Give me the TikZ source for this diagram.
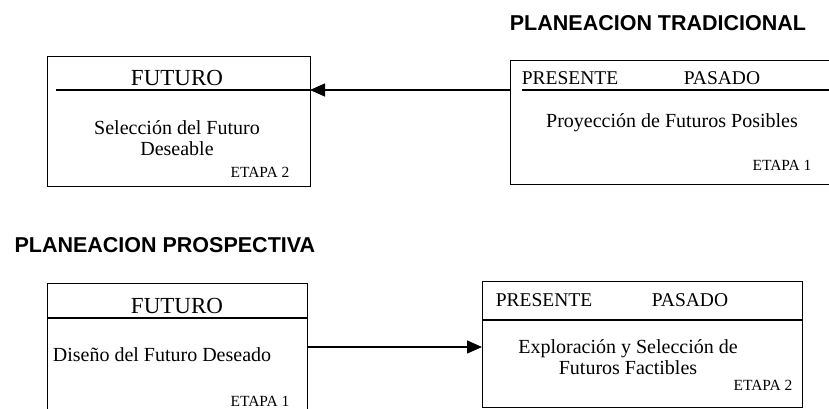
\documentclass[tikz,border=0pt]{standalone}
\usepackage{fontspec}
\setmainfont{Liberation Serif}
\setsansfont{Liberation Sans}
\usetikzlibrary{arrows.meta}
\tikzset{
  >={Triangle[length=15pt,width=13pt]},
  every picture/.style={line cap=butt, line join=miter},
  frame/.style={draw=black, line width=1.3pt, anchor=north west, inner sep=0pt},
  rule/.style={black, line width=1.3pt},
  link/.style={black, line width=1.3pt, ->},
  ttl/.style={font=\sffamily\bfseries\fontsize{21.5}{24}\selectfont},
  head/.style={font=\fontsize{23}{26}\selectfont},
  headsm/.style={font=\fontsize{19.5}{22}\selectfont},
  body/.style={font=\fontsize{20}{21}\selectfont, align=center},
  stage/.style={font=\fontsize{15.5}{18}\selectfont},
}
\begin{document}
\begin{tikzpicture}[x=1pt, y=-1pt]
\useasboundingbox (0,0) rectangle (829,409);
\clip (0,0) rectangle (829,409);
% planeacion tradicional
\node[ttl] (tradttl) at (658,23) {PLANEACION TRADICIONAL};
\node[frame, minimum width=263pt, minimum height=130pt] (tfut) at (47,56) {};
\coordinate (tfuth) at (310,90);
\draw[rule] (56,90) -- (tfuth);
\node[head] (tfutlbl) at (177,78) {FUTURO};
\node[body] (tfuttxt) at (177,138) {Selección del Futuro\\Deseable};
\node[stage] (tfutst) at (260,172) {ETAPA 2};
\node[frame, minimum width=340pt, minimum height=124pt] (tpre) at (510,60) {};
\coordinate (tpreh) at (510,90);
\draw[rule] (522,90) -- (850,90);
\node[headsm] (tprelbl) at (570,78) {PRESENTE};
\node[headsm] (tpaslbl) at (722,78) {PASADO};
\node[body] (tpretxt) at (672,123) {Proyección de Futuros Posibles};
\node[stage] (tprest) at (782,165) {ETAPA 1};
\draw[link] (tpreh) -- (tfuth);
% planeacion prospectiva
\node[ttl, anchor=west] (prosttl) at (11,245) {PLANEACION PROSPECTIVA};
\node[frame, minimum width=260pt, minimum height=160pt] (bfut) at (47,283) {};
\draw[rule] (47,318) -- (307,318);
\node[head] (bfutlbl) at (177,306) {FUTURO};
\node[body] (bfuttxt) at (162,355) {Diseño del Futuro Deseado};
\node[stage] (bfutst) at (260,401) {ETAPA 1};
\node[frame, minimum width=320pt, minimum height=126pt] (bpre) at (482,281) {};
\draw[rule] (482,320) -- (802,320);
\node[headsm] (bprelbl) at (544,300) {PRESENTE};
\node[headsm] (bpaslbl) at (690,300) {PASADO};
\node[body] (bpretxt) at (628,357) {Exploración y Selección de\\Futuros Factibles};
\node[stage] (bprest) at (763,385) {ETAPA 2};
\coordinate (bfuth) at (307,347);
\coordinate (bpreh) at (482,347);
\draw[link] (bfuth) -- (bpreh);
\end{tikzpicture}
\end{document}
